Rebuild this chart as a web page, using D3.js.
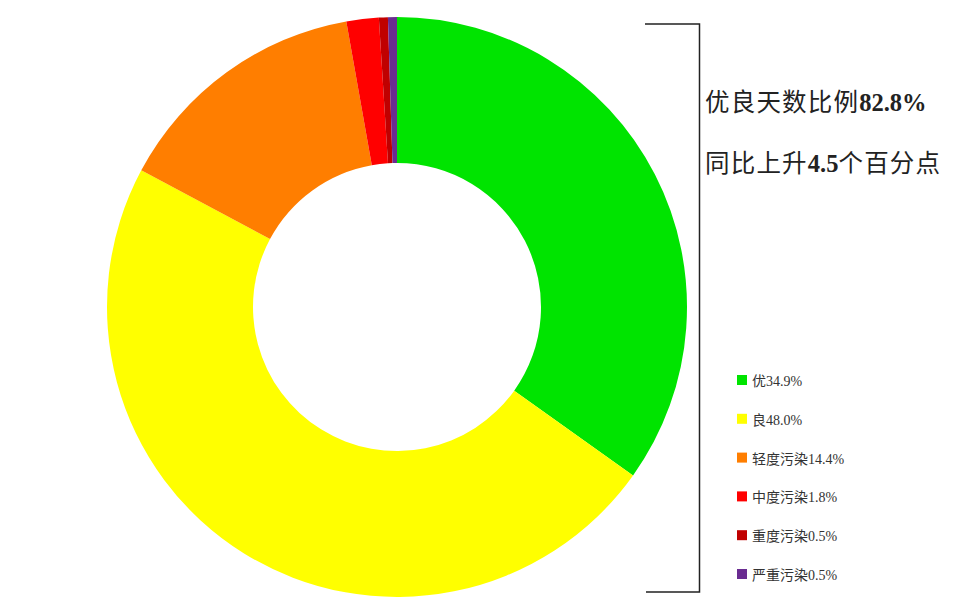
<!DOCTYPE html>
<html>
<head>
<meta charset="utf-8">
<script src="https://cdn.jsdelivr.net/npm/d3@7"></script>
<style>
  body { margin: 0; background: #fff; }
</style>
</head>
<body>
<div id="chart"></div>
<script>
const width = 960;
const height = 616;

// dados
const categorias = ["优", "良", "轻度污染", "中度污染", "重度污染", "严重污染"];
const percentuais = [34.9, 48.0, 14.4, 1.8, 0.5, 0.5];
const cores = ["#00E400", "#FFFF00", "#FF7E00", "#FF0000", "#C00000", "#6A2C91"];

const svg = d3.select("#chart")
  .append("svg")
  .attr("width", width)
  .attr("height", height);

const cx = 397, cy = 307;
const outerR = 290, innerR = 144;

const color = d3.scaleOrdinal()
  .domain(categorias)
  .range(cores);

const pie = d3.pie()
  .sort(null)
  .value(d => d.v);

const arc = d3.arc()
  .innerRadius(innerR)
  .outerRadius(outerR);

const dados = categorias.map((c, i) => ({ c: c, v: percentuais[i] }));

svg.append("g")
  .attr("transform", `translate(${cx},${cy})`)
  .selectAll("path")
  .data(pie(dados))
  .enter()
  .append("path")
  .attr("d", arc)
  .attr("fill", d => color(d.data.c));

// colchete
svg.append("path")
  .attr("d", "M645,24 H699.5 V592 H646")
  .attr("fill", "none")
  .attr("stroke", "#222")
  .attr("stroke-width", 1.5);

// textos
const cjk = "'Noto Sans CJK SC', sans-serif";
const serif = "'Liberation Serif', 'Times New Roman', serif";

const t1 = svg.append("text")
  .attr("x", 705)
  .attr("y", 111)
  .attr("font-size", 24.5)
  .attr("fill", "#222");
t1.append("tspan").attr("font-family", cjk).attr("letter-spacing", 1.2).text("优良天数比例");
t1.append("tspan").attr("font-family", serif).attr("font-weight", "bold").text("82.8%");

const t2 = svg.append("text")
  .attr("x", 705)
  .attr("y", 172)
  .attr("font-size", 24.5)
  .attr("fill", "#222");
t2.append("tspan").attr("font-family", cjk).attr("letter-spacing", 1.2).text("同比上升");
t2.append("tspan").attr("font-family", serif).attr("font-weight", "bold").text("4.5");
t2.append("tspan").attr("font-family", cjk).attr("letter-spacing", 1.2).text("个百分点");

// legenda
const legenda = svg.append("g")
  .attr("transform", "translate(737,375)");

const itens = legenda.selectAll("g")
  .data(dados)
  .enter()
  .append("g")
  .attr("transform", (d, i) => `translate(0,${i * 38.8})`);

itens.append("rect")
  .attr("width", 10)
  .attr("height", 10)
  .attr("fill", d => color(d.c));

const lt = itens.append("text")
  .attr("x", 15)
  .attr("y", 11)
  .attr("font-size", 14)
  .attr("fill", "#333");
lt.append("tspan").attr("font-family", cjk).text(d => d.c);
lt.append("tspan").attr("font-family", serif).text(d => d.v.toFixed(1) + "%");
</script>
</body>
</html>
